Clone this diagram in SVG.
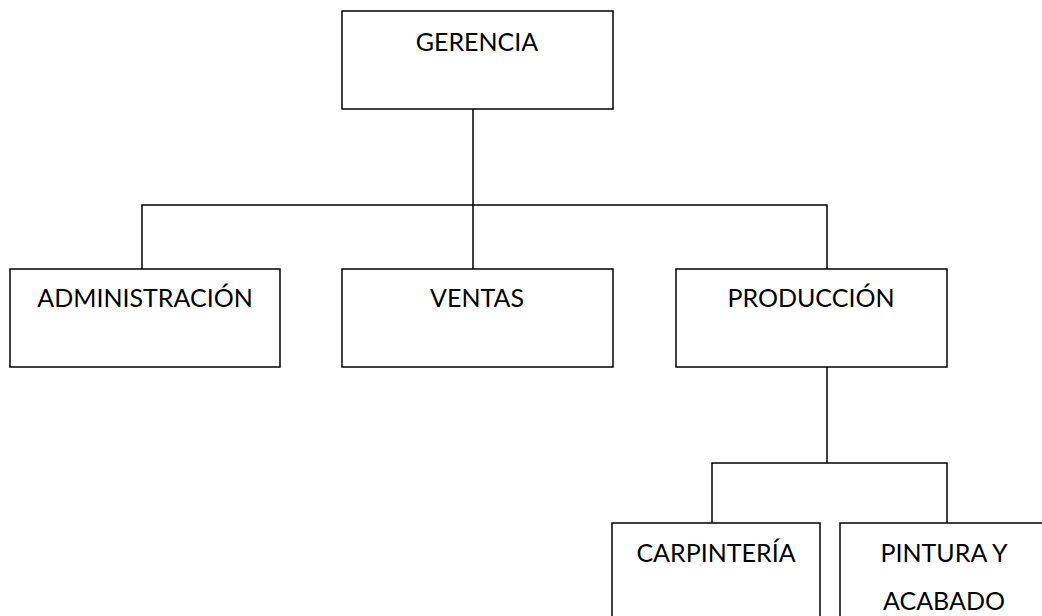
<svg xmlns="http://www.w3.org/2000/svg" width="1042" height="616" viewBox="0 0 1042 616">
<style>
.box{fill:#fff;stroke:#000;stroke-width:1.5}
.lbl{font-family:Lato,"Open Sans","Liberation Sans",sans-serif;font-size:25px;fill:#000;text-anchor:middle}
.conn{fill:none;stroke:#000;stroke-width:1.5}
</style>
<rect width="1042" height="616" fill="#fff"/>
<g id="connectors">
<path class="conn" d="M473 109V269M142 269V205H827V269M827 367V463M712 523V463H947V523"/>
</g>
<g id="gerencia"><rect class="box" x="342" y="11" width="271" height="98"/><text class="lbl" x="477" y="51">GERENCIA</text></g>
<g id="administracion"><rect class="box" x="10" y="269" width="270" height="98"/><text class="lbl" x="145" y="307">ADMINISTRACIÓN</text></g>
<g id="ventas"><rect class="box" x="342" y="269" width="271" height="98"/><text class="lbl" x="477" y="307">VENTAS</text></g>
<g id="produccion"><rect class="box" x="676" y="269" width="271" height="98"/><text class="lbl" x="811" y="307">PRODUCCIÓN</text></g>
<g id="carpinteria"><rect class="box" x="612" y="523" width="208" height="100"/><text class="lbl" x="716" y="562">CARPINTERÍA</text></g>
<g id="pintura"><rect class="box" x="840" y="523" width="209" height="100"/><text class="lbl" x="944" y="562">PINTURA Y</text><text class="lbl" x="944" y="610">ACABADO</text></g>
</svg>
